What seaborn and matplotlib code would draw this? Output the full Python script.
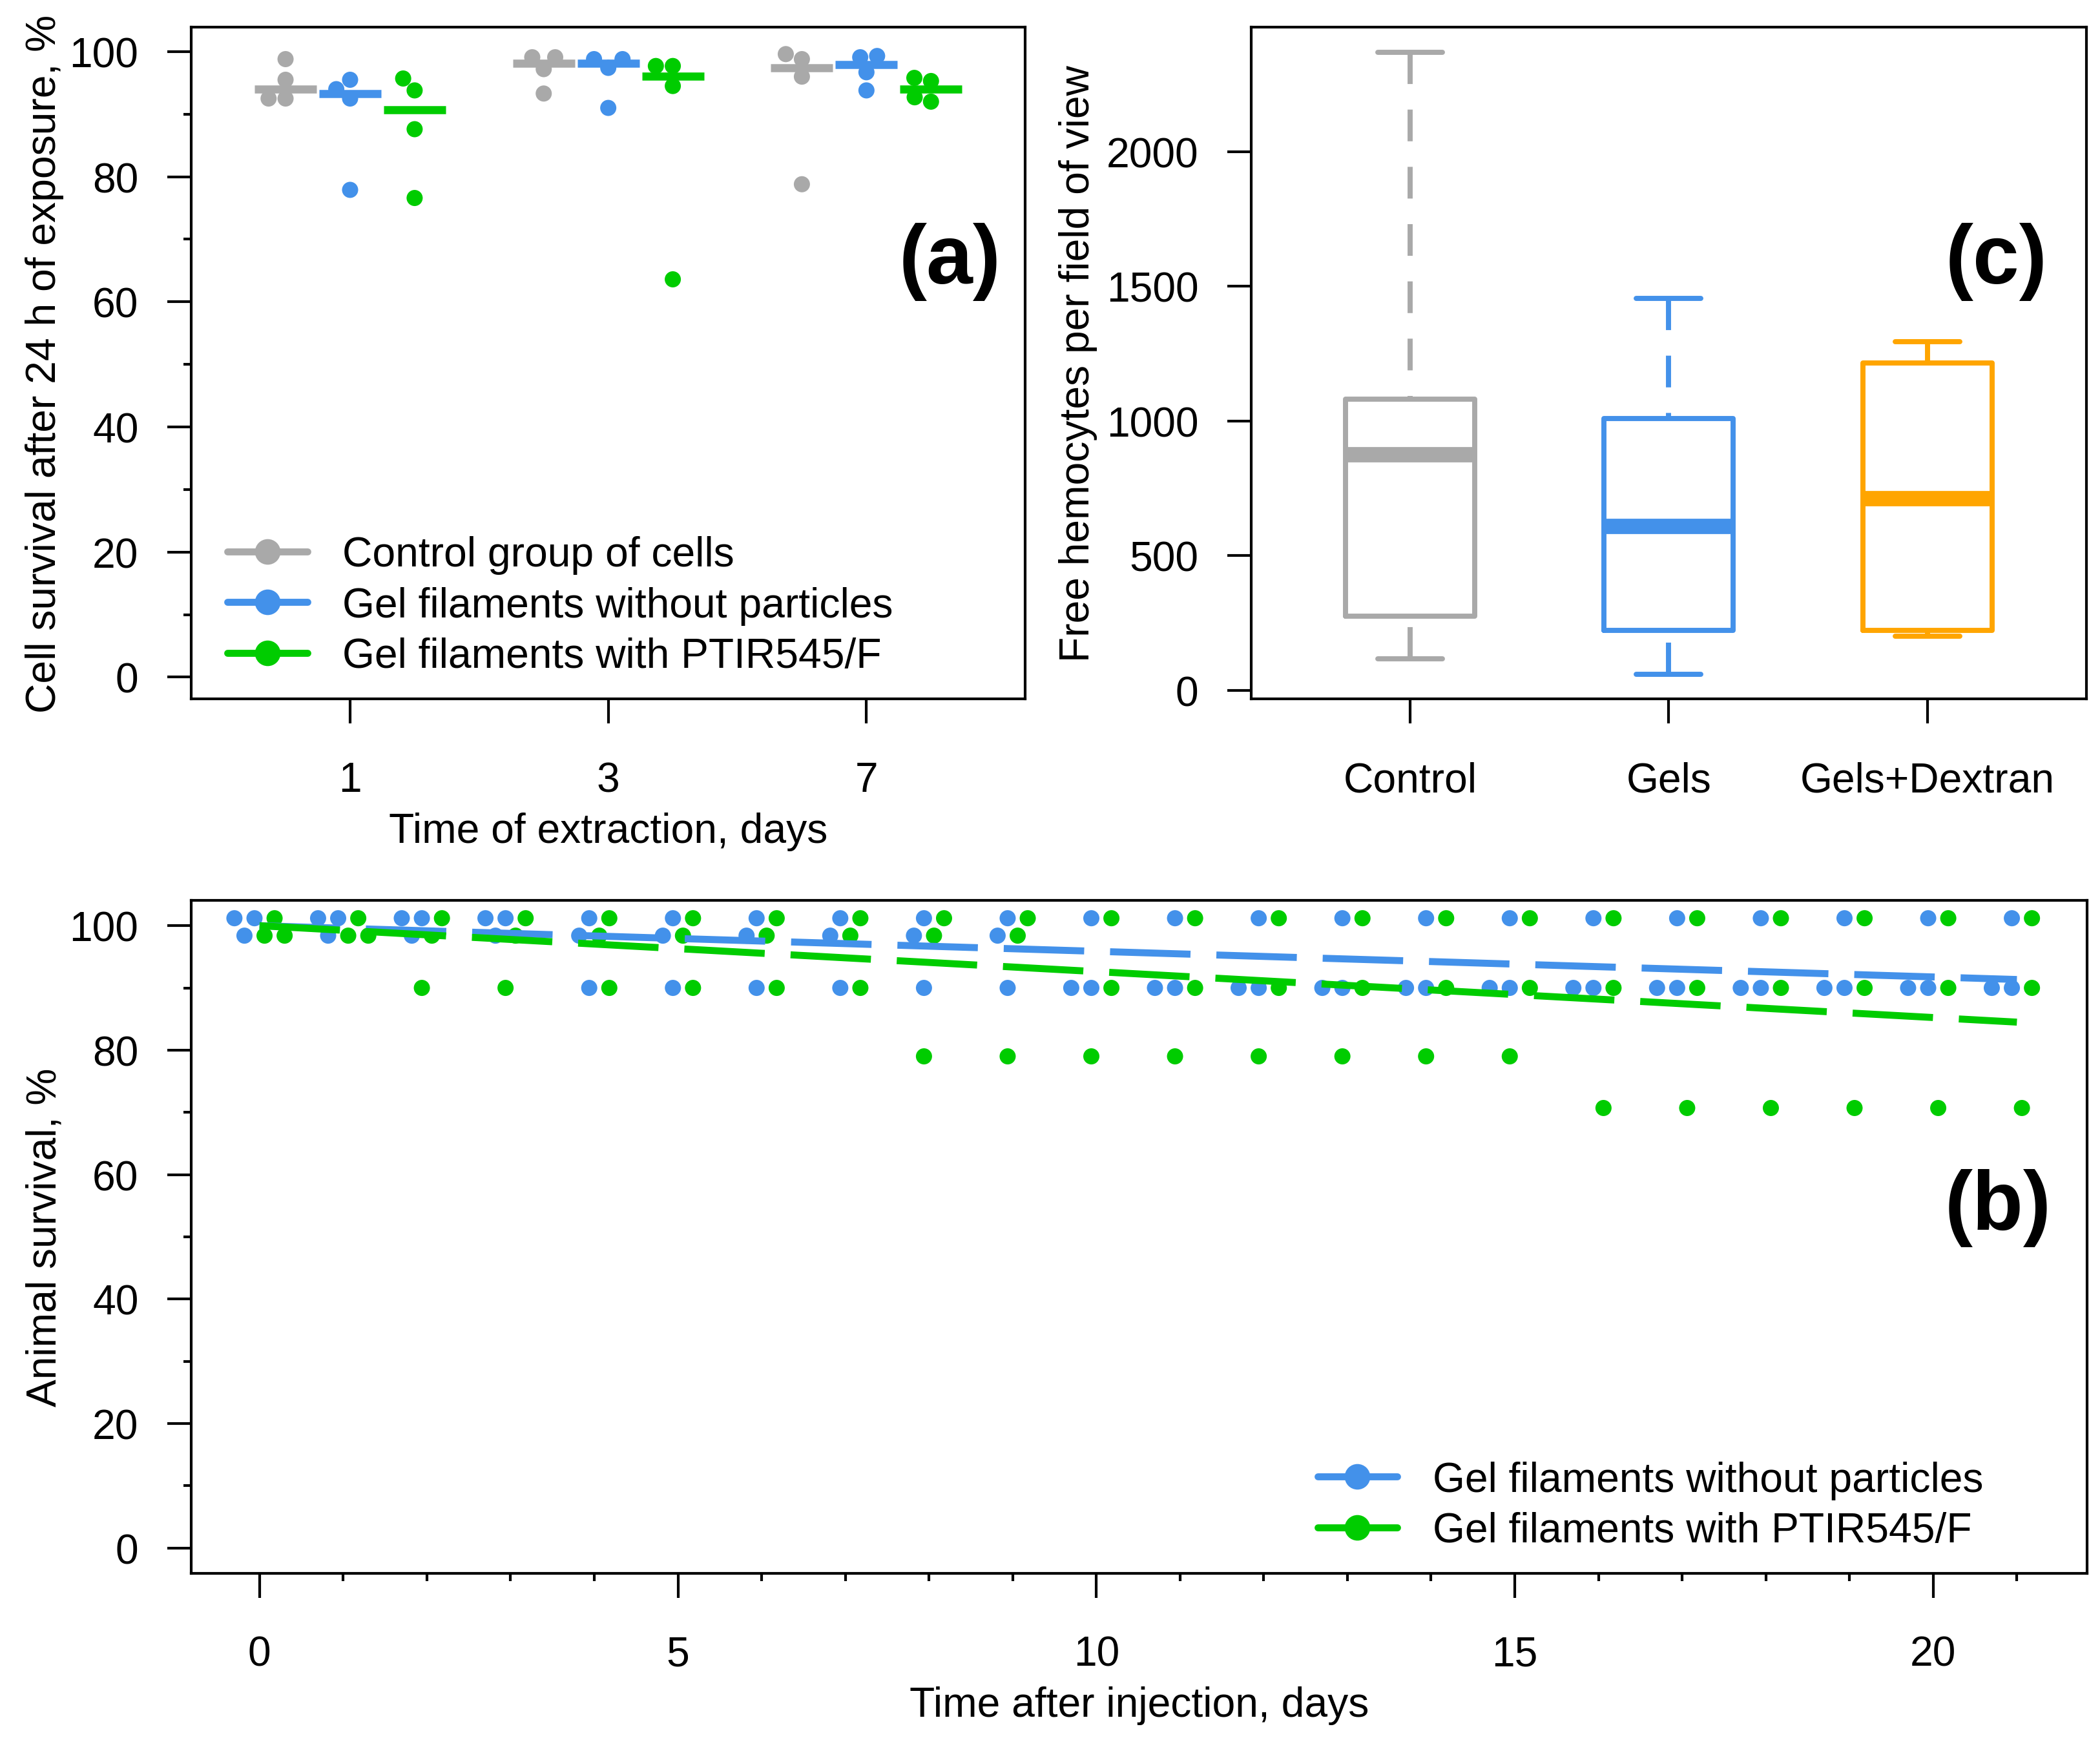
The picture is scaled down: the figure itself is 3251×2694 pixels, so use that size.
import numpy as np
import pandas as pd
import matplotlib
matplotlib.use("Agg")
import matplotlib.pyplot as plt
from matplotlib.lines import Line2D
from matplotlib.ticker import MultipleLocator
import seaborn as sns

GRAY = "#A9A9A9"
BLUE = "#4391EA"
GREEN = "#00CC00"
ORANGE = "#FFA500"

# ---- (a) cell survival after 24 h of exposure, % ----
a_days = ["1", "3", "7"]
a_groups = ["Control group of cells", "Gel filaments without particles",
            "Gel filaments with PTIR545/F"]
ctrl_d1 = [98.8, 95.5, 92.5, 92.5]
ctrl_d3 = [99.1, 99.1, 97.2, 93.3]
ctrl_d7 = [99.6, 98.8, 96.0, 78.8]
gel_d1 = [95.5, 94.0, 92.5, 77.9]
gel_d3 = [98.8, 98.8, 97.4, 91.0]
gel_d7 = [99.3, 99.1, 96.7, 93.8]
ptir_d1 = [95.7, 93.8, 87.6, 76.6]
ptir_d3 = [97.7, 97.7, 94.5, 63.6]
ptir_d7 = [95.8, 95.3, 92.7, 92.0]

# ---- (c) free hemocytes per field of view (box summaries) ----
c_groups = ["Control", "Gels", "Gels+Dextran"]
c_min = [117, 59, 202]
c_q1 = [277, 223, 223]
c_med = [876, 609, 711]
c_q3 = [1082, 1009, 1216]
c_max = [2369, 1455, 1295]

# ---- (b) animal survival, %, three replicates per group, days 0-21 ----
b_days = [0, 1, 2, 3, 4, 5, 6, 7, 8, 9, 10, 11, 12, 13, 14, 15, 16, 17, 18, 19, 20, 21]
b_groups = ["Gel filaments without particles", "Gel filaments with PTIR545/F"]
gel_r1 = [101.2, 101.2, 101.2, 101.2, 101.2, 101.2, 101.2, 101.2, 101.2, 101.2, 101.2,
          101.2, 101.2, 101.2, 101.2, 101.2, 101.2, 101.2, 101.2, 101.2, 101.2, 101.2]
gel_r2 = [98.4, 98.4, 98.4, 98.4, 98.4, 98.4, 98.4, 98.4, 98.4, 98.4, 90.0,
          90.0, 90.0, 90.0, 90.0, 90.0, 90.0, 90.0, 90.0, 90.0, 90.0, 90.0]
gel_r3 = [101.2, 101.2, 101.2, 101.2, 90.0, 90.0, 90.0, 90.0, 90.0, 90.0, 90.0,
          90.0, 90.0, 90.0, 90.0, 90.0, 90.0, 90.0, 90.0, 90.0, 90.0, 90.0]
ptir_r1 = [101.2, 101.2, 101.2, 101.2, 101.2, 101.2, 101.2, 101.2, 101.2, 101.2, 101.2,
           101.2, 101.2, 101.2, 101.2, 101.2, 101.2, 101.2, 101.2, 101.2, 101.2, 101.2]
ptir_r2 = [98.4, 98.4, 98.4, 98.4, 98.4, 98.4, 98.4, 98.4, 98.4, 98.4, 90.0,
           90.0, 90.0, 90.0, 90.0, 90.0, 90.0, 90.0, 90.0, 90.0, 90.0, 90.0]
ptir_r3 = [98.4, 98.4, 90.0, 90.0, 90.0, 90.0, 90.0, 90.0, 79.0, 79.0, 79.0,
           79.0, 79.0, 79.0, 79.0, 79.0, 70.7, 70.7, 70.7, 70.7, 70.7, 70.7]
# dodge slot (0..5) each point sits in around its day
gel_s1 = [2, 2, 2, 2, 2, 2, 2, 2, 2, 2, 2, 2, 2, 2, 2, 2, 2, 2, 2, 2, 2, 2]
gel_s2 = [1, 1, 1, 1, 1, 1, 1, 1, 1, 1, 0, 0, 0, 0, 0, 0, 0, 0, 0, 0, 0, 0]
gel_s3 = [0, 0, 0, 0, 2, 2, 2, 2, 2, 2, 2, 2, 2, 2, 2, 2, 2, 2, 2, 2, 2, 2]
ptir_s1 = [4, 4, 4, 4, 4, 4, 4, 4, 4, 4, 4, 4, 4, 4, 4, 4, 4, 4, 4, 4, 4, 4]
ptir_s2 = [3, 3, 3, 3, 3, 3, 3, 3, 3, 3, 4, 4, 4, 4, 4, 4, 4, 4, 4, 4, 4, 4]
ptir_s3 = [5, 5, 2, 2, 4, 4, 4, 4, 2, 2, 2, 2, 2, 2, 2, 2, 3, 3, 3, 3, 3, 3]
# fitted survival trend
fit_days = [0, 21]
fit_gel = [100.0, 91.35]
fit_ptir = [100.0, 84.5]

FS = 15.4
sns.set_style("ticks")
plt.rcParams["font.family"] = ["Liberation Sans", "DejaVu Sans"]
plt.rcParams.update({
    "font.size": FS, "axes.labelsize": FS, "xtick.labelsize": FS, "ytick.labelsize": FS,
    "axes.linewidth": 1.0, "axes.edgecolor": "black", "text.color": "black",
    "axes.labelcolor": "black", "xtick.color": "black", "ytick.color": "black",
})

fig = plt.figure(figsize=(3251 / 300, 2695 / 300), dpi=300)
axa = fig.add_axes([0.0911, 0.5980, 0.3971, 0.3860])
axc = fig.add_axes([0.5958, 0.5980, 0.3977, 0.3860])
axb = fig.add_axes([0.0911, 0.0957, 0.9028, 0.3866])


def style_ticks(ax):
    ax.tick_params(which="major", direction="out", length=9, width=1.0)
    ax.tick_params(which="minor", direction="out", length=2.8, width=1.0)
    ax.tick_params(axis="x", which="major", pad=14)
    ax.tick_params(axis="y", which="major", pad=10.6)
    for sp in ax.spines.values():
        sp.set_visible(True)
        sp.set_linewidth(1.0)


def legend_handles(colors):
    return [Line2D([0], [0], color=c, lw=2.6, marker="o", ms=8.5, solid_capstyle="round")
            for c in colors]


# ---------------- panel (a) ----------------
a_palette = dict(zip(a_groups, [GRAY, BLUE, GREEN]))
a_vals = [[ctrl_d1, ctrl_d3, ctrl_d7], [gel_d1, gel_d3, gel_d7], [ptir_d1, ptir_d3, ptir_d7]]
rows = []
for gi, g in enumerate(a_groups):
    for di, d in enumerate(a_days):
        for v in a_vals[gi][di]:
            rows.append({"group": g, "day": d, "pos": di + (gi - 1) * 0.25, "value": v})
df_a = pd.DataFrame(rows)

sns.swarmplot(data=df_a, x="pos", y="value", hue="group", palette=a_palette,
              native_scale=True, orient="x", size=6, linewidth=0,
              legend=False, ax=axa, zorder=2)
med = df_a.groupby(["group", "pos"], sort=False)["value"].median().reset_index()
for _, r in med.iterrows():
    axa.hlines(r["value"], r["pos"] - 0.12, r["pos"] + 0.12,
               color=a_palette[r["group"]], lw=3.0, zorder=3)

axa.set_xlim(-0.615, 2.615)
axa.set_ylim(-3.5, 103.9)
axa.set_xticks([0, 1, 2])
axa.set_xticklabels(a_days)
axa.yaxis.set_major_locator(MultipleLocator(20))
axa.yaxis.set_minor_locator(MultipleLocator(10))
axa.set_xlabel("Time of extraction, days", labelpad=4.4)
axa.set_ylabel("Cell survival after 24 h of exposure, %", labelpad=2)
style_ticks(axa)
axa.legend(legend_handles([GRAY, BLUE, GREEN]), a_groups, loc="center left",
           bbox_to_anchor=(0.043, 0.139), frameon=False, borderpad=0, borderaxespad=0,
           handlelength=1.93, handletextpad=0.85, labelspacing=0.29, fontsize=FS)
axa.text(0.91, 0.652, "(a)", transform=axa.transAxes, ha="center", va="center",
         fontsize=31, fontweight="bold")

# ---------------- panel (c) ----------------
c_palette = dict(zip(c_groups, [GRAY, BLUE, ORANGE]))
df_c = pd.DataFrame({
    "group": np.repeat(c_groups, 5),
    "count": np.column_stack([c_min, c_q1, c_med, c_q3, c_max]).ravel(),
})
sns.boxplot(data=df_c, x="group", y="count", hue="group", palette=c_palette, fill=False,
            width=0.5, whis=(0, 100), linewidth=1.9, showfliers=False,
            medianprops={"linewidth": 5.7},
            whiskerprops={"linestyle": (0, (6.2, 5.0))},
            legend=False, ax=axc)
# R draws whiskers from the whisker end toward the box
for ln in axc.lines:
    if ln.get_linestyle() not in ("-", "solid"):
        xd, yd = ln.get_data()
        ln.set_data(np.asarray(xd)[::-1], np.asarray(yd)[::-1])
axc.set_xlim(-0.615, 2.615)
axc.set_ylim(-32, 2462)
axc.yaxis.set_major_locator(MultipleLocator(500))
axc.set_xlabel("")
axc.set_ylabel("Free hemocytes per field of view", labelpad=3.2)
style_ticks(axc)
axc.text(0.892, 0.652, "(c)", transform=axc.transAxes, ha="center", va="center",
         fontsize=31, fontweight="bold")

# ---------------- panel (b) ----------------
b_palette = dict(zip(b_groups, [BLUE, GREEN]))
b_reps = {b_groups[0]: [(gel_r1, gel_s1), (gel_r2, gel_s2), (gel_r3, gel_s3)],
          b_groups[1]: [(ptir_r1, ptir_s1), (ptir_r2, ptir_s2), (ptir_r3, ptir_s3)]}
rows = []
for g, reps in b_reps.items():
    for vals, slots in reps:
        for d, v, k in zip(b_days, vals, slots):
            rows.append({"group": g, "day": d, "x": d - 0.30 + 0.12 * k, "survival": v})
df_b = pd.DataFrame(rows)

sns.scatterplot(data=df_b, x="x", y="survival", hue="group", palette=b_palette,
                s=36, linewidth=0, legend=False, ax=axb, zorder=2)
dash = (0, (11.5, 3.7))
sns.lineplot(x=fit_days, y=fit_gel, color=BLUE, linewidth=2.6, linestyle=dash,
             ax=axb, zorder=3)
sns.lineplot(x=fit_days, y=fit_ptir, color=GREEN, linewidth=2.6, linestyle=dash,
             ax=axb, zorder=3)

axb.set_xlim(-0.815, 21.84)
axb.set_ylim(-4.1, 104.05)
axb.xaxis.set_major_locator(MultipleLocator(5))
axb.xaxis.set_minor_locator(MultipleLocator(1))
axb.yaxis.set_major_locator(MultipleLocator(20))
axb.yaxis.set_minor_locator(MultipleLocator(10))
axb.set_xlabel("Time after injection, days", labelpad=4.4)
axb.set_ylabel("Animal survival, %", labelpad=2)
style_ticks(axb)
axb.legend(legend_handles([BLUE, GREEN]), b_groups, loc="center left",
           bbox_to_anchor=(0.594, 0.101), frameon=False, borderpad=0, borderaxespad=0,
           handlelength=1.93, handletextpad=0.85, labelspacing=0.29, fontsize=FS)
axb.text(0.953, 0.544, "(b)", transform=axb.transAxes, ha="center", va="center",
         fontsize=31, fontweight="bold")

fig.savefig("out.png", dpi=300, facecolor="white")
